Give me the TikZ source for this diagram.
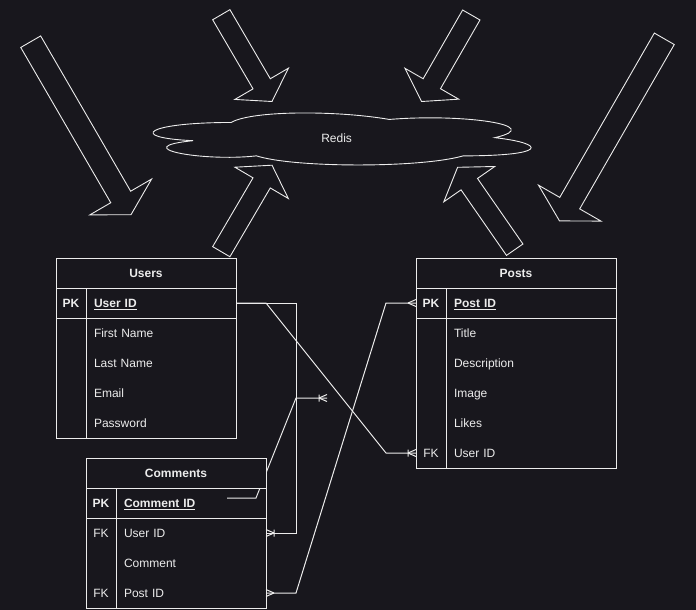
\documentclass[tikz,border=0pt]{standalone}
\usepackage{fontspec}
\setmainfont{Liberation Sans}
\usetikzlibrary{calc,backgrounds,decorations.markings}

\definecolor{bgdark}{RGB}{24,23,29}
\definecolor{ink}{RGB}{236,236,236}

% block arrow: tail, tip, half shaft width, half head width
\newcommand{\fatarrow}[4]{%
  \coordinate (fa-t) at #1;
  \coordinate (fa-p) at #2;
  \coordinate (fa-b) at ($(fa-p)!20.5pt!(fa-t)$);
  \draw[blockarrow] ($(fa-t)!#3!90:(fa-p)$) -- ($(fa-b)!#3!-90:(fa-t)$) -- ($(fa-b)!#4!-90:(fa-t)$) -- (fa-p)
    -- ($(fa-b)!#4!90:(fa-t)$) -- ($(fa-b)!#3!90:(fa-t)$) -- ($(fa-t)!#3!-90:(fa-p)$) -- cycle;}

\begin{document}
\begin{tikzpicture}[x=1pt,y=-1pt,
  every node/.style={font=\fontsize{12pt}{14pt}\selectfont, text=ink, outer sep=0pt, text height=9.6pt, text depth=1pt},
  tableline/.style={draw=ink, line width=1pt},
  link/.style={draw=ink, line width=1pt},
  blockarrow/.style={draw=ink, line width=0.9pt, line join=miter},
  cloudline/.style={draw=ink, line width=0.9pt},
  headcell/.style={tableline, fill=bgdark, minimum width=#1, minimum height=30pt, font=\fontsize{12pt}{14pt}\selectfont\bfseries},
  keycell/.style={minimum width=30pt, minimum height=30pt, inner sep=0pt},
  fieldcell/.style={text width=#1, align=left, inner xsep=8pt, inner ysep=0pt, minimum height=30pt},
  fieldcell/.default=134pt,
  crowfoot/.style={postaction={decorate,decoration={markings,mark=at position 1 with {\draw[link] (-8,0) -- (0,3.5) (-8,0) -- (0,-3.5);}}}},
  crowfoot start/.style={postaction={decorate,decoration={markings,mark=at position 0 with {\draw[link] (8,0) -- (0,3.5) (8,0) -- (0,-3.5);}}}},
  crowbar/.style={postaction={decorate,decoration={markings,mark=at position 1 with {\draw[link] (-8,0) -- (0,3.5) (-8,0) -- (0,-3.5) (-8,-3.5) -- (-8,3.5);}}}}]

\begin{scope}[on background layer]
  \fill[bgdark] (0,0) rectangle (696,610);
\end{scope}

% cache
\begin{scope}[shift={(125.6,107.3)}, x=4.22pt, y=-0.607pt]
  \draw[cloudline] (25,25) .. controls (5,25) and (0,50) .. (16,55)
    .. controls (0,66) and (18,90) .. (31,80)
    .. controls (40,100) and (70,100) .. (80,80)
    .. controls (100,80) and (100,60) .. (87.5,50)
    .. controls (100,30) and (80,10) .. (62.5,20)
    .. controls (50,5) and (30,5) .. (25,25) -- cycle;
\end{scope}
\node (redis) at (336.6,138) {Redis};

\fatarrow{(30.7,41.7)}{(131,214.7)}{11.5pt}{35.7pt}
\fatarrow{(221.3,14.7)}{(272,101.5)}{10pt}{31pt}
\fatarrow{(221.3,251.7)}{(272,165.2)}{10pt}{31pt}
\fatarrow{(471.3,15)}{(421.6,101.5)}{10pt}{31pt}
\fatarrow{(514.7,249.7)}{(457.6,167.3)}{10pt}{31pt}
\fatarrow{(664.3,38.8)}{(559.5,220.9)}{11.5pt}{36pt}

% users
\node[headcell=180pt] (users) at (146,273) {Users};
\node[keycell] (users-k1) at (71,303) {\textbf{PK}};
\node[fieldcell] (users-id) at (161,303) {\textbf{\underline{User ID}}};
\node[fieldcell] (users-first) at (161,333) {First Name};
\node[fieldcell] (users-last) at (161,363) {Last Name};
\node[fieldcell] (users-mail) at (161,393) {Email};
\node[fieldcell] (users-pass) at (161,423) {Password};
\draw[tableline] (users.south west) rectangle (users-pass.south east);
\draw[tableline] (users-k1.south west) -- (users-id.south east);
\draw[tableline] (users-k1.north east) -- (users-k1.east |- users-pass.south);

% posts
\node[headcell=200pt] (posts) at (516,273) {Posts};
\node[keycell] (posts-k1) at (431,303) {\textbf{PK}};
\node[fieldcell=154pt] (posts-id) at (531,303) {\textbf{\underline{Post ID}}};
\node[fieldcell=154pt] (posts-title) at (531,333) {Title};
\node[fieldcell=154pt] (posts-desc) at (531,363) {Description};
\node[fieldcell=154pt] (posts-image) at (531,393) {Image};
\node[fieldcell=154pt] (posts-likes) at (531,423) {Likes};
\node[keycell] (posts-k6) at (431,453) {FK};
\node[fieldcell=154pt] (posts-user) at (531,453) {User ID};
\draw[tableline] (posts.south west) rectangle (posts-user.south east);
\draw[tableline] (posts-k1.south west) -- (posts-id.south east);
\draw[tableline] (posts-k1.north east) -- (posts-k1.east |- posts-user.south);

% comments
\node[headcell=180pt] (com) at (176,473) {Comments};
\node[keycell] (com-k1) at (101,503) {\textbf{PK}};
\node[fieldcell] (com-id) at (191,503) {\textbf{\underline{Comment ID}}};
\node[keycell] (com-k2) at (101,533) {FK};
\node[fieldcell] (com-user) at (191,533) {User ID};
\node[fieldcell] (com-text) at (191,563) {Comment};
\node[keycell] (com-k4) at (101,593) {FK};
\node[fieldcell] (com-post) at (191,593) {Post ID};
\draw[tableline] (com.south west) rectangle (com-post.south east);
\draw[tableline] (com-k1.south west) -- (com-id.south east);
\draw[tableline] (com-k1.north east) -- (com-k1.east |- com-post.south);

\coordinate (stray) at (227,498);
\coordinate (loose) at (327,398);

\begin{scope}[on background layer]
  \draw[link, crowbar] (users-id.east) -- ++(60,0) |- (com-user.east);
  \draw[link, crowbar] (users-id.east) -- ++(30,0) -- ++(120,150) -- (posts-k6.west);
  \draw[link, crowbar] (stray) -- ++(29,0) -- ++(40,-100) -- (loose);
  \draw[link, crowfoot, crowfoot start] (com-post.east) -- ++(30,0) -- ++(90,-290) -- (posts-k1.west);
\end{scope}
\end{tikzpicture}
\end{document}
